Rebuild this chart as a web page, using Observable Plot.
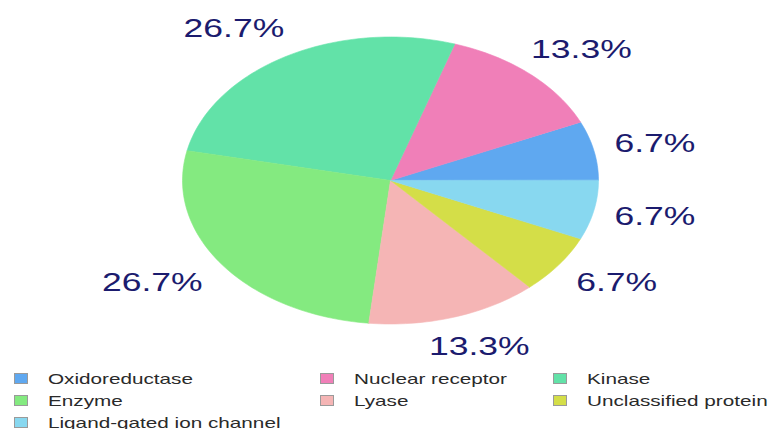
<!DOCTYPE html>
<html>
<head>
<meta charset="utf-8">
<script src="https://cdn.jsdelivr.net/npm/d3@7"></script>
<script src="https://cdn.jsdelivr.net/npm/@observablehq/plot@0.6"></script>
<style>
  html, body { margin: 0; padding: 0; background: #fff; }
  #wrap { position: relative; width: 769px; height: 429px; overflow: hidden; font-family: "Liberation Sans", Arial, sans-serif; }
  #legend { position: relative; width: 769px; height: 67px; }
  .item { position: absolute; height: 20px; display: flex; align-items: center; }
  .sw { width: 14px; height: 11px; border: 1px solid #9a9a9a; box-sizing: border-box; }
  .lab { position: absolute; left: 34px; font-size: 15px; color: #2a2a2a; white-space: nowrap; transform: scaleX(1.38); transform-origin: left center; }
</style>
</head>
<body>
<div id="wrap"></div>
<script>
const names = ["Oxidoreductase", "Nuclear receptor", "Kinase", "Enzyme", "Lyase", "Unclassified protein", "Ligand-gated ion channel"];
const counts = [1, 2, 4, 4, 2, 1, 1];
const colors = ["#5fa8f0", "#f07fb8", "#62e2a8", "#84ea80", "#f5b5b5", "#d4de48", "#88d8f0"];
const labelColor = "#1b1b6e";

const total = d3.sum(counts);
const pts = [];
const labels = [];
let cum = 0;
names.forEach((name, i) => {
  const f0 = cum / total, f1 = (cum + counts[i]) / total;
  cum += counts[i];
  const a0 = 2 * Math.PI * f0, a1 = 2 * Math.PI * f1;
  pts.push({name, x: 0, y: 0});
  const steps = Math.max(8, Math.ceil((f1 - f0) * 240));
  for (let k = 0; k <= steps; k++) {
    const a = a0 + (a1 - a0) * k / steps;
    pts.push({name, x: Math.cos(a), y: Math.sin(a)});
  }
  const am = (a0 + a1) / 2;
  const c = Math.cos(am), s = Math.sin(am);
  labels.push({name, x: -0.029 + 1.49 * c - 0.168 * c * c * c, y: 1.22 * s, label: (counts[i] / total * 100).toFixed(1) + "%"});
});

const chart = Plot.plot({
  width: 769,
  height: 362,
  margin: 0,
  x: {domain: [-1, 1], range: [182, 598], axis: null},
  y: {domain: [-1, 1], range: [323.5, 36.5], axis: null},
  color: {domain: names, range: colors},
  marks: [
    Plot.line(pts, {x: "x", y: "y", z: "name", fill: "name", stroke: "name", strokeWidth: 0.6, curve: "linear-closed"}),
    Plot.text(labels, {x: "x", y: "y", text: "label", fontSize: 25, fill: labelColor, fontFamily: "Liberation Sans, Arial, sans-serif"})
  ]
});
chart.style.display = "block";
chart.querySelectorAll('g[aria-label="text"] text').forEach(t => {
  const tr = t.getAttribute("transform");
  if (tr) t.setAttribute("transform", tr + " scale(1.42,1)");
  else {
    const x = t.getAttribute("x") || 0, y = t.getAttribute("y") || 0;
    t.setAttribute("transform", `translate(${x},${y}) scale(1.42,1)`);
    t.removeAttribute("x"); t.removeAttribute("y");
  }
});
const wrap = document.getElementById("wrap");
wrap.appendChild(chart);

const legend = document.createElement("div");
legend.id = "legend";
const colLeft = [14, 320, 553];
names.forEach((name, i) => {
  const item = document.createElement("div");
  item.className = "item";
  item.style.left = colLeft[i % 3] + "px";
  item.style.top = (6 + Math.floor(i / 3) * 22) + "px";
  const sw = document.createElement("div");
  sw.className = "sw";
  sw.style.background = colors[i];
  const lab = document.createElement("span");
  lab.className = "lab";
  lab.textContent = name;
  item.appendChild(sw);
  item.appendChild(lab);
  legend.appendChild(item);
});
wrap.appendChild(legend);
</script>
</body>
</html>
